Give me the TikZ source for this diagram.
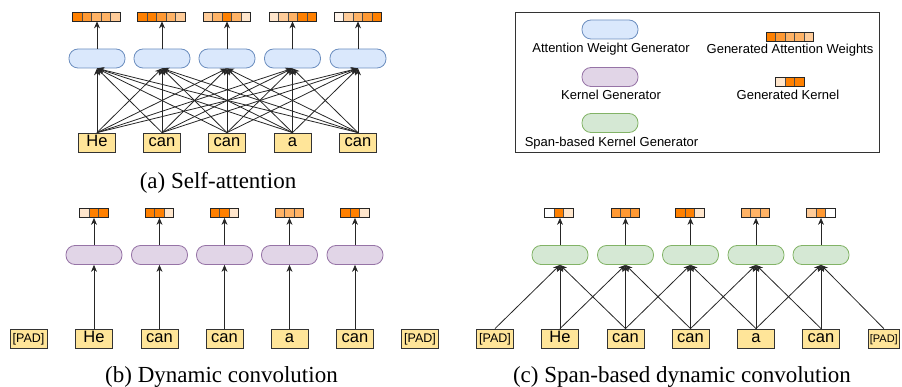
\documentclass[tikz,border=0pt]{standalone}
\usepackage{fontspec}
\setmainfont{Liberation Serif}
\newfontfamily\arialf{Liberation Sans}
\usetikzlibrary{arrows.meta,calc}
\definecolor{oA}{HTML}{FF8000}
\definecolor{oB}{HTML}{FF9933}
\definecolor{oC}{HTML}{FFB366}
\definecolor{oD}{HTML}{FFCC99}
\definecolor{oE}{HTML}{FFE6CC}
\definecolor{oF}{HTML}{FFF4EA}
\definecolor{blueF}{HTML}{DAE8FC}\definecolor{blueD}{HTML}{6C8EBF}
\definecolor{purF}{HTML}{E1D5E7}\definecolor{purD}{HTML}{9673A6}
\definecolor{grnF}{HTML}{D5E8D4}\definecolor{grnD}{HTML}{82B366}
\definecolor{tokF}{HTML}{FFE599}
\tikzset{
  gen/.style={rounded corners=9pt, minimum width=56, minimum height=19, inner sep=0, line width=0.8},
  agen/.style={gen, fill=blueF, draw=blueD},
  kgen/.style={gen, fill=purF, draw=purD},
  sgen/.style={gen, fill=grnF, draw=grnD},
  tok/.style={draw=black!80, fill=tokF, line width=0.8, minimum width=37, minimum height=19, inner sep=0,
    text height=12, text depth=3.5, font=\arialf\fontsize{16.5}{18}\selectfont},
  pad/.style={tok, text height=9.5, text depth=2.5, font=\arialf\fontsize{12.5}{14}\selectfont},
  arr/.style={-{Stealth[length=7pt,width=6pt]}, line width=0.8, draw=black!85},
  barnode/.style={draw=black!85, line width=0.8, minimum height=9, inner sep=0},
  cellline/.style={draw=black!70, line width=0.6},
  lgtext/.style={font=\arialf\fontsize{13}{15}\selectfont, anchor=base, inner sep=0},
  captext/.style={font=\fontsize{23}{26}\selectfont, anchor=base, inner sep=0},
  legbox/.style={draw=black!80, line width=0.8, minimum width=364, minimum height=140, inner sep=0}
}
\newcommand\wcells[3]{\foreach \cc [count=\ii] in {#3} {\fill[\cc] ({#1+(\ii-1)*9.5},{#2-4.5}) rectangle ++(9.5,9); \draw[cellline] ({#1+(\ii-1)*9.5},{#2-4.5}) rectangle ++(9.5,9);}}
\newcommand\wbar[5]{\wcells{#2-#4*4.75}{#3}{#5}\node[barnode, minimum width={#4*9.5}] (#1) at (#2,#3) {};}
\begin{document}
\begin{tikzpicture}[x=1pt,y=-1pt]
\useasboundingbox (0,0) rectangle (902,387);
% ---------- (a) self-attention ----------
\foreach \n/\x/\t in {1/97/He,2/162/can,3/227/can,4/292.5/a,5/358/can}{
  \node[agen] (ga\n) at (\x,58.5) {};
  \node[tok] (ta\n) at (\x,142.5) {\t};
}
\wbar{ba1}{96.5}{16.5}{5}{oA,oB,oC,oC,oD}
\wbar{ba2}{161.5}{16.5}{5}{oA,oA,oB,oC,oD}
\wbar{ba3}{227}{16.5}{5}{oD,oC,oA,oC,oE}
\wbar{ba4}{293}{16.5}{5}{oE,oD,oC,oA,oA}
\wbar{ba5}{358}{16.5}{5}{oF,oD,oC,oB,oA}
\foreach \n in {1,...,5}{
  \draw[arr] (ga\n.north) -- (ga\n.north |- ba\n.south);
  \foreach \m in {1,...,5}{\draw[arr] (ta\m.north) -- (ga\n.south);}
}
\node[captext] (capa) at (218,189) {(a) Self-attention};
% ---------- legend ----------
\node[legbox] (leg) at (697,82) {};
\node[agen] (la) at (610,29.5) {};
\node[kgen] (lk) at (610,77) {};
\node[sgen] (ls) at (610,123) {};
\node[lgtext] (lat) at (611,52.5) {Attention Weight Generator};
\node[lgtext] (lkt) at (611,100) {Kernel Generator};
\node[lgtext] (lst) at (611.5,146.7) {Span-based Kernel Generator};
\wbar{lw}{790}{36.5}{5}{oA,oB,oC,oC,oD}
\wbar{lkb}{790}{81.5}{3}{oE,oA,oA}
\node[lgtext] (lwt) at (790,53.3) {Generated Attention Weights};
\node[lgtext] (lkbt) at (788,100) {Generated Kernel};
% ---------- (b) dynamic convolution ----------
\node[pad] (tb0) at (28.5,338.5) {[PAD]};
\node[pad] (tb6) at (420,338.5) {[PAD]};
\foreach \n/\x/\t in {1/94/He,2/159.5/can,3/224.5/can,4/289.5/a,5/355/can}{
  \node[kgen] (gb\n) at (\x,255) {};
  \node[tok] (tb\n) at (\x,338.5) {\t};
  \draw[arr] (tb\n.north) -- (gb\n.south);
}
\wbar{bb1}{94}{213}{3}{oE,oA,oA}
\wbar{bb2}{159.5}{213}{3}{oA,oA,oE}
\wbar{bb3}{224.5}{213}{3}{oA,oA,oE}
\wbar{bb4}{289.5}{213}{3}{oC,oC,oC}
\wbar{bb5}{355}{213}{3}{oA,oA,oE}
\foreach \n in {1,...,5}{\draw[arr] (gb\n.north) -- (gb\n.north |- bb\n.south);}
\node[captext] (capb) at (221.5,382) {(b) Dynamic convolution};
% ---------- (c) span-based dynamic convolution ----------
\node[pad] (tc0) at (495,338.5) {[PAD]};
\node[pad, minimum width=31, font=\arialf\fontsize{11}{13}\selectfont] (tc6) at (883.8,338.5) {[PAD]};
\foreach \n/\x/\t in {1/560/He,2/625.5/can,3/690.5/can,4/756/a,5/821/can}{
  \node[sgen] (gc\n) at (\x,255) {};
  \node[tok] (tc\n) at (\x,338.5) {\t};
}
\wbar{bc1}{559}{213}{3}{white,oA,oE}
\wbar{bc2}{625.5}{213}{3}{oB,oB,oB}
\wbar{bc3}{690}{213}{3}{oA,oA,oE}
\wbar{bc4}{755.5}{213}{3}{oC,oC,oC}
\wbar{bc5}{821}{213}{3}{oD,oB,white}
\foreach \n [evaluate=\n as \a using int(\n-1), evaluate=\n as \b using int(\n+1)] in {1,...,5}{
  \draw[arr] (gc\n.north) -- (gc\n.north |- bc\n.south);
  \draw[arr] (tc\a.north) -- (gc\n.south);
  \draw[arr] (tc\n.north) -- (gc\n.south);
  \draw[arr] (tc\b.north) -- (gc\n.south);
}
\node[captext] (capc) at (682,382) {(c) Span-based dynamic convolution};
\end{tikzpicture}
\end{document}
